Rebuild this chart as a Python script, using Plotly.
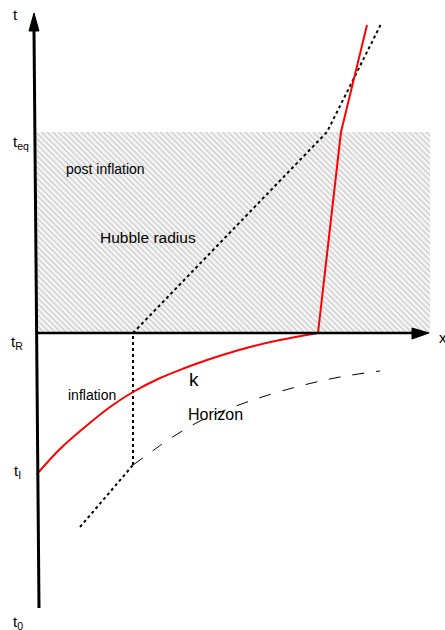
import plotly.graph_objects as go

# Schematic coordinates (pixel-like units, y grows downward)
shade_x = [37, 430, 430, 37, 37]
shade_y = [132, 132, 333, 333, 132]

t_axis_x = [34, 39]
t_axis_y = [30, 608]
t_arrow_x = [34, 29, 39, 34]
t_arrow_y = [13, 31, 31, 13]

x_axis_x = [36, 414]
x_axis_y = [333, 333]
x_arrow_x = [429, 412, 412, 429]
x_arrow_y = [333, 328, 339, 333]

hubble_low_x = [80, 133]
hubble_low_y = [527, 465]
hubble_vert_x = [133, 133]
hubble_vert_y = [465, 333]
hubble_up_x = [133, 327, 381]
hubble_up_y = [333, 132, 24]

horizon_x = [133, 158, 165, 200, 250, 300, 340, 380]
horizon_y = [465, 447, 442, 421, 401, 386, 377, 371]

k_x = [37, 60, 85, 110, 133, 158, 185, 207, 250, 280, 318, 341, 367]
k_y = [474, 449, 427, 407, 392, 379, 368, 360, 347, 340, 333, 132, 25]

labels = ["t", "t<sub>eq</sub>", "t<sub>R</sub>", "t<sub>I</sub>", "t<sub>0</sub>", "x"]
label_x = [15, 21, 17, 17, 18, 443]
label_y = [14, 142, 342, 471, 622, 337]

texts = ["post inflation", "Hubble radius", "inflation", "k", "Horizon"]
text_x = [105, 148, 92, 194, 215]
text_y = [169, 237, 395, 379, 414]
text_size = [14, 15.5, 14, 19, 16]

fig = go.Figure()
fig.add_trace(go.Scatter(x=shade_x, y=shade_y, mode="lines", fill="toself",
                         line=dict(width=0, color="rgba(0,0,0,0)"),
                         fillcolor="#f2f2f2",
                         fillpattern=dict(shape="\\", size=4, solidity=0.3,
                                          fgcolor="#c8c8c8", bgcolor="#f6f6f6",
                                          fillmode="replace"),
                         hoverinfo="skip"))
fig.add_trace(go.Scatter(x=hubble_low_x, y=hubble_low_y, mode="lines",
                         line=dict(color="black", width=2, dash="dot")))
fig.add_trace(go.Scatter(x=hubble_vert_x, y=hubble_vert_y, mode="lines",
                         line=dict(color="black", width=2, dash="dot")))
fig.add_trace(go.Scatter(x=hubble_up_x, y=hubble_up_y, mode="lines",
                         line=dict(color="black", width=2, dash="dot")))
fig.add_trace(go.Scatter(x=horizon_x, y=horizon_y, mode="lines", line_shape="spline",
                         line=dict(color="black", width=1, dash="12px,12px")))
fig.add_trace(go.Scatter(x=k_x[:11], y=k_y[:11], mode="lines", line_shape="spline",
                         line=dict(color="red", width=2)))
fig.add_trace(go.Scatter(x=k_x[10:], y=k_y[10:], mode="lines",
                         line=dict(color="red", width=2)))
fig.add_trace(go.Scatter(x=t_axis_x, y=t_axis_y, mode="lines",
                         line=dict(color="black", width=3)))
fig.add_trace(go.Scatter(x=t_arrow_x, y=t_arrow_y, mode="lines", fill="toself",
                         fillcolor="black", line=dict(color="black", width=1)))
fig.add_trace(go.Scatter(x=x_axis_x, y=x_axis_y, mode="lines",
                         line=dict(color="black", width=2.5)))
fig.add_trace(go.Scatter(x=x_arrow_x, y=x_arrow_y, mode="lines", fill="toself",
                         fillcolor="black", line=dict(color="black", width=1)))

for s, xx, yy in zip(labels, label_x, label_y):
    fig.add_annotation(x=xx, y=yy, text=s, showarrow=False, xanchor="center", yanchor="middle",
                       font=dict(family="Liberation Sans, Arial", size=15, color="black"))
for s, xx, yy, fs in zip(texts, text_x, text_y, text_size):
    fig.add_annotation(x=xx, y=yy, text=s, showarrow=False, xanchor="center", yanchor="middle",
                       font=dict(family="Liberation Sans, Arial", size=fs, color="black"))

fig.update_layout(width=445, height=630, margin=dict(l=0, r=0, t=0, b=0),
                  font=dict(family="Liberation Sans, Arial", size=14),
                  paper_bgcolor="white", plot_bgcolor="white", showlegend=False,
                  xaxis=dict(range=[0, 445], visible=False, fixedrange=True),
                  yaxis=dict(range=[630, 0], visible=False, fixedrange=True))
fig.write_html("out.html", config={"displayModeBar": False},
               post_script="document.body.style.margin='0';document.body.style.overflow='hidden';")
